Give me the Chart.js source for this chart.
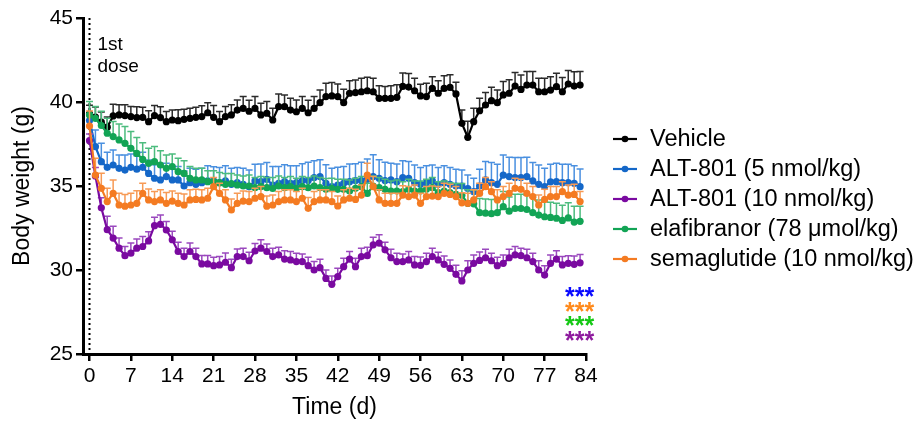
<!DOCTYPE html>
<html>
<head>
<meta charset="utf-8">
<script src="https://cdn.jsdelivr.net/npm/chart.js@4/dist/chart.umd.min.js"></script>
<style>
    html, body { margin: 0; padding: 0; background: #fff; }
    #chart { display: block; }
</style>
</head>
<body>
<canvas id="chart" width="923" height="422"></canvas>
<script>
const FONT = "'Liberation Sans', Arial, sans-serif";

// days 0..83, one row per week
const days = [
    0, 1, 2, 3, 4, 5, 6,
    7, 8, 9, 10, 11, 12, 13,
    14, 15, 16, 17, 18, 19, 20,
    21, 22, 23, 24, 25, 26, 27,
    28, 29, 30, 31, 32, 33, 34,
    35, 36, 37, 38, 39, 40, 41,
    42, 43, 44, 45, 46, 47, 48,
    49, 50, 51, 52, 53, 54, 55,
    56, 57, 58, 59, 60, 61, 62,
    63, 64, 65, 66, 67, 68, 69,
    70, 71, 72, 73, 74, 75, 76,
    77, 78, 79, 80, 81, 82, 83
];
const xTicks = [0, 7, 14, 21, 28, 35, 42, 49, 56, 63, 70, 77, 84];
const yTicks = [25, 30, 35, 40, 45];

const seriesNames = [
    "Vehicle",
    "ALT-801 (5 nmol/kg)",
    "ALT-801 (10 nmol/kg)",
    "elafibranor (78 \u03bcmol/kg)",
    "semaglutide (10 nmol/kg)"
];
const seriesColors = ["#000000", "#1467c8", "#7a0aa0", "#12a455", "#f47b22"];
const errorColors = ["#2b2b2b", "#4a90e0", "#9a48be", "#4cbc7e", "#f79a55"];

const vehicle = [
    39.3, 39.1, 38.8, 38.5, 39.17, 39.23, 39.19,
    39.13, 39.07, 39.09, 38.83, 39.19, 39.07, 38.83,
    38.93, 38.89, 38.97, 39.03, 39.09, 39.13, 39.36,
    39.09, 38.83, 39.13, 39.23, 39.52, 39.62, 39.45,
    39.62, 39.23, 39.33, 38.93, 39.72, 39.72, 39.52,
    39.42, 39.62, 39.36, 39.62, 39.96, 40.32, 40.36,
    40.32, 39.96, 40.52, 40.56, 40.61, 40.67, 40.61,
    40.22, 40.22, 40.22, 40.28, 40.93, 40.89, 40.67,
    40.36, 40.32, 40.81, 40.52, 40.81, 40.87, 40.48,
    38.73, 37.9, 38.83, 39.48, 39.82, 40.08, 39.96,
    40.42, 40.52, 40.95, 40.75, 41.01, 41.01, 40.61,
    40.61, 40.71, 40.91, 40.61, 41.07, 40.95, 41.01
];
const vehicleErr = [
    0.5, 0.6, 0.6, 0.6, 0.7, 0.6, 0.65,
    0.6, 0.65, 0.6, 0.65, 0.6, 0.65, 0.6,
    0.6, 0.65, 0.6, 0.6, 0.6, 0.65, 0.6,
    0.7, 0.6, 0.6, 0.6, 0.6, 0.7, 0.65,
    0.7, 0.7, 0.7, 0.7, 0.75, 0.7, 0.7,
    0.7, 0.7, 0.75, 0.7, 0.75, 0.8, 0.8,
    0.75, 0.8, 0.75, 0.75, 0.8, 0.8, 0.8,
    0.75, 0.7, 0.75, 0.75, 0.8, 0.8, 0.75,
    0.7, 0.8, 0.7, 0.75, 0.75, 0.75, 0.7,
    0.8, 0.95, 0.8, 0.75, 0.75, 0.8, 0.75,
    0.8, 0.8, 0.8, 0.85, 0.8, 0.8, 0.8,
    0.8, 0.8, 0.8, 0.85, 0.8, 0.85, 0.8
];

const alt5 = [
    38.9, 37.34, 36.45, 36.11, 36.25, 36.05, 35.95,
    36.11, 36.0, 36.11, 35.75, 35.46, 35.36, 35.56,
    35.36, 35.36, 35.0, 35.2, 35.1, 35.2, 35.3,
    35.3, 35.2, 35.3, 35.1, 35.2, 35.1, 34.95,
    35.3, 35.26, 35.4, 35.06, 35.16, 35.26, 35.16,
    35.2, 35.32, 35.32, 35.5, 35.56, 35.16, 34.96,
    35.06, 35.16, 35.26, 35.32, 35.32, 35.4, 35.56,
    35.46, 35.32, 35.36, 35.26, 35.5, 35.46, 35.2,
    35.1, 35.2, 35.3, 35.1, 35.2, 35.1, 35.0,
    35.0, 34.85, 34.66, 35.0, 35.36, 35.2, 35.1,
    35.65, 35.56, 35.5, 35.5, 35.56, 35.3, 35.1,
    34.96, 35.25, 35.26, 35.2, 35.2, 35.16, 34.96
];
const alt5Err = [
    0.4, 1.0, 1.1, 0.9, 0.9, 0.8, 0.9,
    0.8, 0.8, 0.9, 0.8, 0.8, 0.85, 0.8,
    0.8, 0.8, 0.9, 0.85, 0.9, 0.85, 0.9,
    0.85, 0.9, 0.9, 0.95, 0.9, 0.95, 1.0,
    1.0, 1.05, 1.0, 1.1, 1.0, 1.0, 1.05,
    1.0, 1.0, 1.1, 1.0, 1.0, 1.1, 1.1,
    1.05, 1.0, 1.05, 1.0, 1.1, 1.2, 1.3,
    1.1, 1.1, 1.0, 1.05, 1.0, 1.0, 1.05,
    1.0, 1.0, 0.95, 1.0, 1.0, 1.0, 1.0,
    0.95, 0.8, 0.8, 1.0, 1.1, 1.2, 1.2,
    1.2, 1.15, 1.2, 1.2, 1.15, 1.1, 1.15,
    1.1, 1.05, 1.1, 1.1, 1.1, 1.05, 1.05
];

const alt10 = [
    37.7, 35.6, 33.7, 32.4, 31.9, 31.3, 30.85,
    31.0, 31.3, 31.4, 31.73, 32.64, 32.72, 32.38,
    31.8, 31.1, 30.8, 31.1, 30.8, 30.36, 30.36,
    30.26, 30.3, 30.46, 30.14, 30.8, 30.8, 30.55,
    31.13, 31.3, 31.1, 30.8, 30.9, 30.65, 30.6,
    30.5, 30.5, 30.26, 30.0, 30.14, 29.5, 29.15,
    29.6, 30.2, 30.65, 30.2, 30.8, 30.85, 31.5,
    31.6, 31.2, 30.73, 30.5, 30.5, 30.6, 30.3,
    30.28, 30.5, 30.8, 30.6, 30.34, 30.1, 29.74,
    29.35, 30.0, 30.4, 30.57, 30.73, 30.55, 30.26,
    30.4, 30.73, 30.9, 30.85, 30.73, 30.5, 30.0,
    29.7, 30.4, 30.65, 30.3, 30.4, 30.34, 30.43
];
const alt10Err = [
    0.4, 0.5, 0.6, 0.8, 0.7, 0.6, 0.55,
    0.6, 0.55, 0.6, 0.55, 0.5, 0.55, 0.5,
    0.5, 0.55, 0.5, 0.5, 0.5, 0.5, 0.5,
    0.5, 0.5, 0.55, 0.5, 0.45, 0.5, 0.5,
    0.45, 0.5, 0.45, 0.5, 0.45, 0.5, 0.5,
    0.5, 0.45, 0.5, 0.5, 0.5, 0.5, 0.5,
    0.5, 0.5, 0.45, 0.5, 0.5, 0.5, 0.45,
    0.5, 0.45, 0.5, 0.5, 0.45, 0.5, 0.5,
    0.5, 0.5, 0.5, 0.45, 0.5, 0.5, 0.55,
    0.6, 0.55, 0.5, 0.5, 0.5, 0.45, 0.5,
    0.5, 0.5, 0.5, 0.45, 0.5, 0.5, 0.55,
    0.55, 0.5, 0.5, 0.5, 0.45, 0.5, 0.5
];

const elafibranor = [
    39.23, 39.03, 38.6, 38.14, 37.94, 37.74, 37.54,
    37.24, 36.94, 36.58, 36.35, 36.45, 36.25, 36.05,
    36.15, 35.85, 35.75, 35.46, 35.36, 35.36, 35.26,
    35.26, 35.2, 35.1, 35.15, 35.06, 35.0, 35.0,
    34.9, 34.96, 34.9, 34.85, 35.0, 34.9, 34.96,
    34.86, 34.96, 34.9, 35.0, 34.9, 34.8, 34.86,
    34.8, 34.8, 34.7, 34.86, 34.96, 34.56, 35.0,
    34.9, 34.8, 34.7, 34.7, 34.66, 34.8, 34.7,
    34.7, 34.8, 34.9, 34.6, 34.7, 34.6, 34.5,
    34.45, 33.97, 33.94, 33.41, 33.38, 33.35, 33.41,
    33.77, 33.5, 33.66, 33.66, 33.6, 33.41, 33.27,
    33.17, 33.13, 33.08, 32.95, 33.1, 32.85, 32.9
];
const elafibranorErr = [
    0.8, 0.7, 0.85, 0.9, 0.9, 0.95, 1.0,
    1.0, 0.95, 1.0, 0.9, 0.9, 0.85, 0.8,
    0.75, 0.8, 0.75, 0.7, 0.7, 0.7, 0.65,
    0.65, 0.6, 0.65, 0.6, 0.6, 0.6, 0.65,
    0.6, 0.6, 0.6, 0.65, 0.6, 0.6, 0.6,
    0.6, 0.6, 0.6, 0.6, 0.6, 0.65, 0.6,
    0.6, 0.6, 0.65, 0.6, 0.6, 0.6, 0.6,
    0.6, 0.6, 0.6, 0.65, 0.6, 0.6, 0.6,
    0.6, 0.6, 0.6, 0.65, 0.6, 0.6, 0.65,
    0.7, 0.8, 0.8, 0.85, 0.85, 0.85, 0.85,
    0.9, 0.85, 0.85, 0.85, 0.85, 0.9, 0.9,
    0.9, 0.9, 0.9, 0.9, 0.9, 0.95, 0.9
];

const semaglutide = [
    38.57, 35.65, 34.86, 34.07, 34.56, 33.87, 33.8,
    33.87, 33.97, 34.56, 34.17, 34.07, 34.17, 33.97,
    34.1, 33.97, 33.87, 34.17, 34.2, 34.17, 34.27,
    34.96, 34.56, 34.17, 33.57, 33.97, 34.1, 34.07,
    34.27, 34.37, 33.8, 33.87, 34.07, 34.17, 34.17,
    34.07, 34.27, 33.67, 34.07, 34.17, 34.17, 34.07,
    33.81, 34.17, 34.27, 34.2, 34.46, 35.65, 34.96,
    34.17, 33.97, 33.97, 33.97, 34.46, 34.37, 34.46,
    33.97, 34.37, 34.4, 34.37, 34.56, 34.5, 34.37,
    34.0, 33.97, 34.17, 34.56, 34.96, 34.66, 34.17,
    34.37, 34.56, 34.86, 34.8, 34.56, 34.37, 33.87,
    34.2, 34.37, 34.37, 34.66, 34.46, 34.5, 34.07
];
const semaglutideErr = [
    0.9, 1.0, 0.9, 0.8, 0.8, 0.7, 0.7,
    0.7, 0.75, 0.6, 0.65, 0.6, 0.6, 0.65,
    0.6, 0.6, 0.65, 0.6, 0.6, 0.6, 0.6,
    0.55, 0.6, 0.6, 0.65, 0.6, 0.6, 0.6,
    0.6, 0.6, 0.6, 0.6, 0.6, 0.6, 0.6,
    0.6, 0.6, 0.65, 0.6, 0.6, 0.6, 0.6,
    0.6, 0.6, 0.6, 0.6, 0.6, 0.7, 0.6,
    0.6, 0.6, 0.6, 0.6, 0.55, 0.6, 0.6,
    0.6, 0.6, 0.6, 0.6, 0.6, 0.6, 0.6,
    0.6, 0.6, 0.6, 0.6, 0.55, 0.6, 0.6,
    0.6, 0.6, 0.6, 0.6, 0.6, 0.6, 0.6,
    0.6, 0.6, 0.6, 0.6, 0.6, 0.6, 0.6
];

const seriesValues = [vehicle, alt5, alt10, elafibranor, semaglutide];
const seriesErrors = [vehicleErr, alt5Err, alt10Err, elafibranorErr, semaglutideErr];
// semaglutide drawn on top, vehicle underneath
const drawOrder = [5, 4, 3, 2, 1];

const starText = "***";
const starColors = ["#0a0aff", "#ff8a1c", "#14c814", "#8e1a9e"];

function toPoints(values) {
    return days.map((d, i) => ({ x: d, y: values[i] }));
}

const datasets = seriesNames.map((name, i) => ({
    label: name,
    data: toPoints(seriesValues[i]),
    errors: seriesErrors[i],
    errorColor: errorColors[i],
    borderColor: seriesColors[i],
    backgroundColor: seriesColors[i],
    pointBackgroundColor: seriesColors[i],
    pointBorderColor: seriesColors[i],
    pointBorderWidth: 0,
    pointRadius: 3.6,
    borderWidth: 2.2,
    tension: 0,
    order: drawOrder[i]
}));

// upward SEM bars, drawn just before each series
const errorBars = {
    id: 'errorBars',
    beforeDatasetDraw(chart, args) {
        const ds = chart.data.datasets[args.index];
        const yScale = chart.scales.y;
        const ctx = chart.ctx;
        ctx.save();
        ctx.strokeStyle = ds.errorColor;
        ctx.lineWidth = 1.5;
        args.meta.data.forEach((pt, i) => {
            const top = yScale.getPixelForValue(ds.data[i].y + ds.errors[i]);
            ctx.beginPath();
            ctx.moveTo(pt.x, pt.y);
            ctx.lineTo(pt.x, top);
            ctx.moveTo(pt.x - 3.5, top);
            ctx.lineTo(pt.x + 3.5, top);
            ctx.stroke();
        });
        ctx.restore();
    }
};

const doseLine = {
    id: 'doseLine',
    beforeDatasetsDraw(chart) {
        const ctx = chart.ctx;
        const area = chart.chartArea;
        const x = chart.scales.x.getPixelForValue(0);
        ctx.save();
        ctx.strokeStyle = '#000';
        ctx.lineWidth = 2;
        ctx.setLineDash([2, 3]);
        ctx.beginPath();
        ctx.moveTo(x, area.top);
        ctx.lineTo(x, area.bottom);
        ctx.stroke();
        ctx.restore();
    }
};

const extras = {
    id: 'extras',
    afterDraw(chart) {
        const ctx = chart.ctx;
        const x0 = chart.scales.x.getPixelForValue(0);
        ctx.save();
        ctx.fillStyle = '#000';
        ctx.font = "19px " + FONT;
        ctx.textAlign = 'left';
        ctx.textBaseline = 'alphabetic';
        ctx.fillText("1st", x0 + 8, 50);
        ctx.fillText("dose", x0 + 8, 72);

        // significance stars
        ctx.font = "bold 25px " + FONT;
        starColors.forEach((c, i) => {
            ctx.fillStyle = c;
            ctx.fillText(starText, 565, 305 + i * 14.5);
        });

        // legend
        ctx.textBaseline = 'middle';
        ctx.font = "23.5px " + FONT;
        seriesNames.forEach((name, i) => {
            const y = 139 + i * 30;
            ctx.strokeStyle = seriesColors[i];
            ctx.lineWidth = 2.2;
            ctx.beginPath();
            ctx.moveTo(613, y);
            ctx.lineTo(637, y);
            ctx.stroke();
            ctx.fillStyle = seriesColors[i];
            ctx.beginPath();
            ctx.arc(625, y, 3.3, 0, Math.PI * 2);
            ctx.fill();
            ctx.fillStyle = '#000';
            ctx.fillText(name, 650, y + 1);
        });
        ctx.restore();
    }
};

const axisGrid = {
    display: true,
    drawOnChartArea: false,
    drawTicks: true,
    tickLength: 7,
    lineWidth: 2.5,
    color: '#000'
};

new Chart(document.getElementById('chart'), {
    type: 'line',
    data: { datasets: datasets },
    options: {
        responsive: false,
        animation: false,
        devicePixelRatio: 1,
        events: [],
        layout: { padding: { left: 0, right: 337, top: 18, bottom: 0 } },
        plugins: {
            legend: { display: false },
            tooltip: { enabled: false }
        },
        scales: {
            x: {
                type: 'linear',
                min: -1.1,
                max: 84,
                afterBuildTicks: s => { s.ticks = xTicks.map(v => ({ value: v })); },
                afterFit: s => { s.height = 68; s.paddingLeft = 0; s.paddingRight = 0; },
                border: { display: true, color: '#000', width: 3 },
                grid: axisGrid,
                ticks: { color: '#000', font: { family: FONT, size: 21 }, padding: 3, maxRotation: 0 },
                title: { display: true, text: 'Time (d)', color: '#000', font: { family: FONT, size: 23 }, padding: { top: 0, bottom: 1 } }
            },
            y: {
                type: 'linear',
                min: 25,
                max: 45,
                afterBuildTicks: s => { s.ticks = yTicks.map(v => ({ value: v })); },
                afterFit: s => { s.width = 83; },
                border: { display: true, color: '#000', width: 3 },
                grid: axisGrid,
                ticks: { color: '#000', font: { family: FONT, size: 21 }, padding: 3 },
                title: { display: true, text: 'Body weight (g)', color: '#000', font: { family: FONT, size: 23 }, padding: { top: 9, bottom: 0 } }
            }
        }
    },
    plugins: [doseLine, errorBars, extras]
});
</script>
</body>
</html>
